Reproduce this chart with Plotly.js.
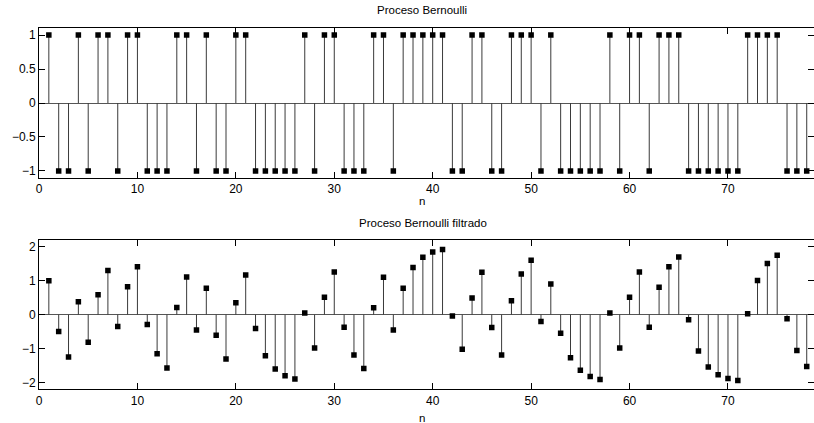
<!DOCTYPE html>
<html>
<head>
<meta charset="utf-8">
<script src="https://cdn.plot.ly/plotly-3.0.1.min.js"></script>
<style>
  html, body { margin: 0; padding: 0; background: #fff; }
  #chart { width: 814px; height: 423px; }
</style>
</head>
<body>
<div id="chart"></div>
<script>
// Sample index n
const nIdx = [1,2,3,4,5,6,7,8,9,10,11,12,13,14,15,16,17,18,19,20,
  21,22,23,24,25,26,27,28,29,30,31,32,33,34,35,36,37,38,39,40,
  41,42,43,44,45,46,47,48,49,50,51,52,53,54,55,56,57,58,59,60,
  61,62,63,64,65,66,67,68,69,70,71,72,73,74,75,76,77,78];

// Bernoulli process (±1)
const bernoulli = [1,-1,-1,1,-1,1,1,-1,1,1,-1,-1,-1,1,1,-1,1,-1,-1,1,
  1,-1,-1,-1,-1,-1,1,-1,1,1,-1,-1,-1,1,1,-1,1,1,1,1,
  1,-1,-1,1,1,-1,-1,1,1,1,-1,1,-1,-1,-1,-1,-1,1,-1,1,
  1,-1,1,1,1,-1,-1,-1,-1,-1,-1,1,1,1,1,-1,-1,-1];

// Filtered Bernoulli process
const filtrado = [1.00,-0.50,-1.25,0.38,-0.81,0.59,1.30,-0.35,0.82,1.41,
  -0.29,-1.15,-1.57,0.21,1.11,-0.45,0.78,-0.61,-1.31,0.35,
  1.17,-0.41,-1.21,-1.60,-1.80,-1.90,0.05,-0.98,0.51,1.26,
  -0.37,-1.19,-1.59,0.20,1.10,-0.45,0.78,1.39,1.69,1.85,
  1.92,-0.04,-1.02,0.49,1.25,-0.38,-1.19,0.41,1.20,1.60,
  -0.20,0.90,-0.55,-1.27,-1.64,-1.82,-1.91,0.05,-0.98,0.51,
  1.26,-0.37,0.81,1.41,1.70,-0.15,-1.07,-1.54,-1.77,-1.88,
  -1.94,0.03,1.01,1.51,1.75,-0.12,-1.06,-1.53];

const titles = ["Proceso Bernoulli", "Proceso Bernoulli filtrado"];
const xLabel = "n";

function stems(x, y, xa, ya) {
  const sx = [], sy = [];
  for (let i = 0; i < x.length; i++) {
    sx.push(x[i], x[i], null);
    sy.push(0, y[i], null);
  }
  return [
    { x: sx, y: sy, type: 'scatter', mode: 'lines', xaxis: xa, yaxis: ya,
      line: { color: '#3a3a3a', width: 1 }, hoverinfo: 'skip', showlegend: false },
    { x: x, y: y, type: 'scatter', mode: 'markers', xaxis: xa, yaxis: ya,
      marker: { symbol: 'square', size: 5.5, color: '#000' }, showlegend: false }
  ];
}

const data = [].concat(stems(nIdx, bernoulli, 'x', 'y'), stems(nIdx, filtrado, 'x2', 'y2'));

const W = 814, H = 423;
const font = { family: 'Liberation Sans, Arial, Helvetica, sans-serif', size: 11.5, color: '#000' };
const tickFont = { family: 'Liberation Sans, Arial, Helvetica, sans-serif', size: 12, color: '#000' };

const axisCommon = {
  showline: true, mirror: 'ticks', linecolor: '#000', linewidth: 1,
  ticks: 'inside', ticklen: 6, tickcolor: '#000', tickwidth: 1,
  showgrid: false, tickfont: tickFont
};

const layout = {
  width: W, height: H,
  margin: { l: 0, r: 0, t: 0, b: 0 },
  paper_bgcolor: '#fff', plot_bgcolor: '#fff',
  font: font,
  showlegend: false,
  xaxis: Object.assign({}, axisCommon, {
    domain: [39 / W, 1], range: [0, 78.74], dtick: 10, tick0: 0,
    zeroline: false, anchor: 'y'
  }),
  yaxis: Object.assign({}, axisCommon, {
    domain: [1 - 177.7 / H, 1 - 28.3 / H], range: [-1.1, 1.1], dtick: 0.5, tick0: 0,
    zeroline: true, zerolinecolor: '#555', zerolinewidth: 1, anchor: 'x'
  }),
  xaxis2: Object.assign({}, axisCommon, {
    domain: [39 / W, 1], range: [0, 78.74], dtick: 10, tick0: 0,
    zeroline: false, anchor: 'y2'
  }),
  yaxis2: Object.assign({}, axisCommon, {
    domain: [1 - 389.3 / H, 1 - 240 / H], range: [-2.2, 2.2], dtick: 1, tick0: 0,
    zeroline: true, zerolinecolor: '#555', zerolinewidth: 1, anchor: 'x2'
  }),
  annotations: [
    { text: titles[0], xref: 'paper', yref: 'paper', x: 422 / W, y: 1 - 10 / H,
      xanchor: 'center', yanchor: 'middle', showarrow: false, font: font },
    { text: xLabel, xref: 'paper', yref: 'paper', x: 422 / W, y: 1 - 201 / H,
      xanchor: 'center', yanchor: 'middle', showarrow: false, font: font },
    { text: titles[1], xref: 'paper', yref: 'paper', x: 423 / W, y: 1 - 223 / H,
      xanchor: 'center', yanchor: 'middle', showarrow: false, font: font },
    { text: xLabel, xref: 'paper', yref: 'paper', x: 422 / W, y: 1 - 418 / H,
      xanchor: 'center', yanchor: 'middle', showarrow: false, font: font }
  ]
};

Plotly.newPlot('chart', data, layout, { displayModeBar: false, staticPlot: true });
</script>
</body>
</html>
